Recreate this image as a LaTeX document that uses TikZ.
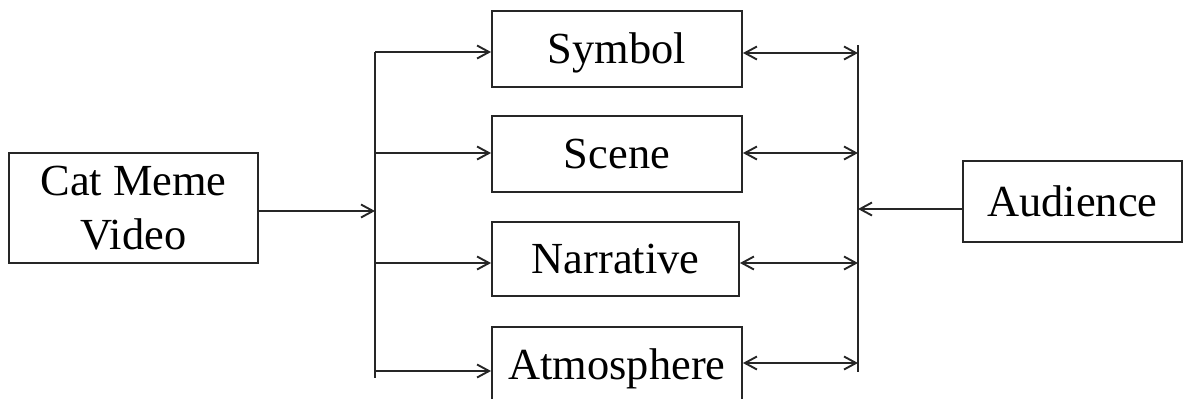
\documentclass[tikz,border=0pt]{standalone}
\usepackage{fontspec}
\setmainfont{Liberation Serif}
\usetikzlibrary{arrows.meta}
\begin{document}
\begin{tikzpicture}[
    x=0.5pt, y=-0.5pt,
    box/.style={draw=black!85, line width=0.95pt, inner sep=0pt,
                font=\fontsize{22.2}{27}\selectfont, align=center},
    word/.style={box, text height=14.7pt, text depth=0pt},
    link/.style={draw=black!85, line width=0.95pt,
                 -{Straight Barb[length=6pt, width=6.5pt]}},
    both/.style={link, {Straight Barb[length=6pt, width=6.5pt]}-{Straight Barb[length=6pt, width=6.5pt]}},
    bus/.style={draw=black!85, line width=0.95pt}
]
  \useasboundingbox (0,0) rectangle (1185,398);

  % Source and audience
  \node[box, minimum width=124.5pt, minimum height=55pt] (video) at (133.5, 208) {Cat Meme\\Video};
  \node[word, minimum width=109.5pt, minimum height=40.5pt] (aud) at (1072.5, 201.5) {Audience};

  % Middle column
  \node[word, minimum width=125pt, minimum height=38pt]   (sym)  at (617, 49)    {Symbol};
  \node[word, minimum width=125pt, minimum height=38pt]   (scn)  at (617, 154)   {Scene};
  \node[word, minimum width=123.5pt, minimum height=37pt] (nar)  at (615.5, 259) {Narrative};
  \node[word, minimum width=125pt, minimum height=38pt]   (atm)  at (617, 365)   {Atmosphere};

  % Left bus
  \coordinate (ltop) at (375, 52);
  \coordinate (lbot) at (375, 378);
  \coordinate (lin)  at (375, 211);
  \coordinate (l2)   at (375, 153);
  \coordinate (l3)   at (375, 263);
  \coordinate (l4)   at (375, 371);
  \path[bus] (ltop) -- (lbot);
  \path[link] (video.east |- lin) -- (lin);
  \path[link] (ltop) -- (ltop -| sym.west);
  \path[link] (l2) -- (l2 -| scn.west);
  \path[link] (l3) -- (l3 -| nar.west);
  \path[link] (l4) -- (l4 -| atm.west);

  % Right bus
  \coordinate (rtop) at (858, 45);
  \coordinate (rbot) at (858, 372);
  \coordinate (r1)   at (858, 53);
  \coordinate (r2)   at (858, 153);
  \coordinate (r3)   at (858, 263);
  \coordinate (r4)   at (858, 363);
  \coordinate (rin)  at (858, 209);
  \path[bus] (rtop) -- (rbot);
  \path[both] (r1 -| sym.east) -- (r1);
  \path[both] (r2 -| scn.east) -- (r2);
  \path[both] (r3 -| nar.east) -- (r3);
  \path[both] (r4 -| atm.east) -- (r4);
  \path[link] (aud.west |- rin) -- (rin);
\end{tikzpicture}
\end{document}
